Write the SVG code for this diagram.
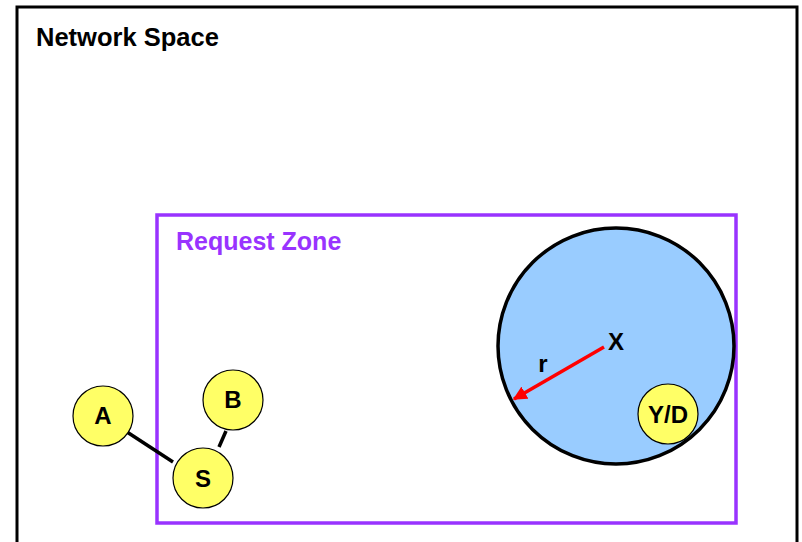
<svg xmlns="http://www.w3.org/2000/svg" width="802" height="542" viewBox="0 0 802 542">
  <style>
    text { font-family: "Liberation Sans", Arial, sans-serif; font-weight: bold; }
    .node { fill: #FFFF66; stroke: #000; stroke-width: 1.2; }
    .label { font-size: 24px; fill: #000; text-anchor: middle; }
    .link { stroke: #000; stroke-width: 3.5; }
  </style>
  <defs>
    <marker id="redHead" viewBox="0 0 10 10" refX="9" refY="5" markerWidth="4" markerHeight="4" orient="auto" markerUnits="strokeWidth">
      <path d="M0,0 L10,5 L0,10 z" fill="#FF0000"/>
    </marker>
  </defs>
  <rect width="802" height="542" fill="#fff"/>

  <g id="network-space">
    <rect x="17" y="7" width="780" height="560" fill="none" stroke="#000" stroke-width="3"/>
    <text x="36" y="46" font-size="25.5px" fill="#000">Network Space</text>
  </g>

  <g id="request-zone">
    <rect x="157" y="215" width="579" height="308" fill="none" stroke="#9933FF" stroke-width="3.5"/>
    <text x="176" y="250" font-size="25px" fill="#9933FF">Request Zone</text>
  </g>

  <g id="zone-x">
    <circle cx="616" cy="346" r="118" fill="#99CCFF" stroke="#000" stroke-width="3.5"/>
    <text x="616" y="350" class="label">X</text>
    <text x="543" y="372" class="label">r</text>
  </g>

  <g id="connectors">
    <line class="link" x1="127" y1="432" x2="173" y2="462"/>
    <line class="link" x1="226" y1="431" x2="219" y2="447"/>
    <line x1="604" y1="347" x2="514" y2="399" stroke="#FF0000" stroke-width="3.5" marker-end="url(#redHead)"/>
  </g>

  <g id="node-yd">
    <circle class="node" cx="668" cy="414" r="30"/>
    <text x="668" y="423" class="label">Y/D</text>
  </g>
  <g id="node-a">
    <circle class="node" cx="103" cy="416" r="30"/>
    <text x="103" y="424" class="label">A</text>
  </g>
  <g id="node-b">
    <circle class="node" cx="233" cy="400" r="30"/>
    <text x="233" y="408" class="label">B</text>
  </g>
  <g id="node-s">
    <circle class="node" cx="203" cy="478" r="30"/>
    <text x="203" y="487" class="label">S</text>
  </g>
</svg>
